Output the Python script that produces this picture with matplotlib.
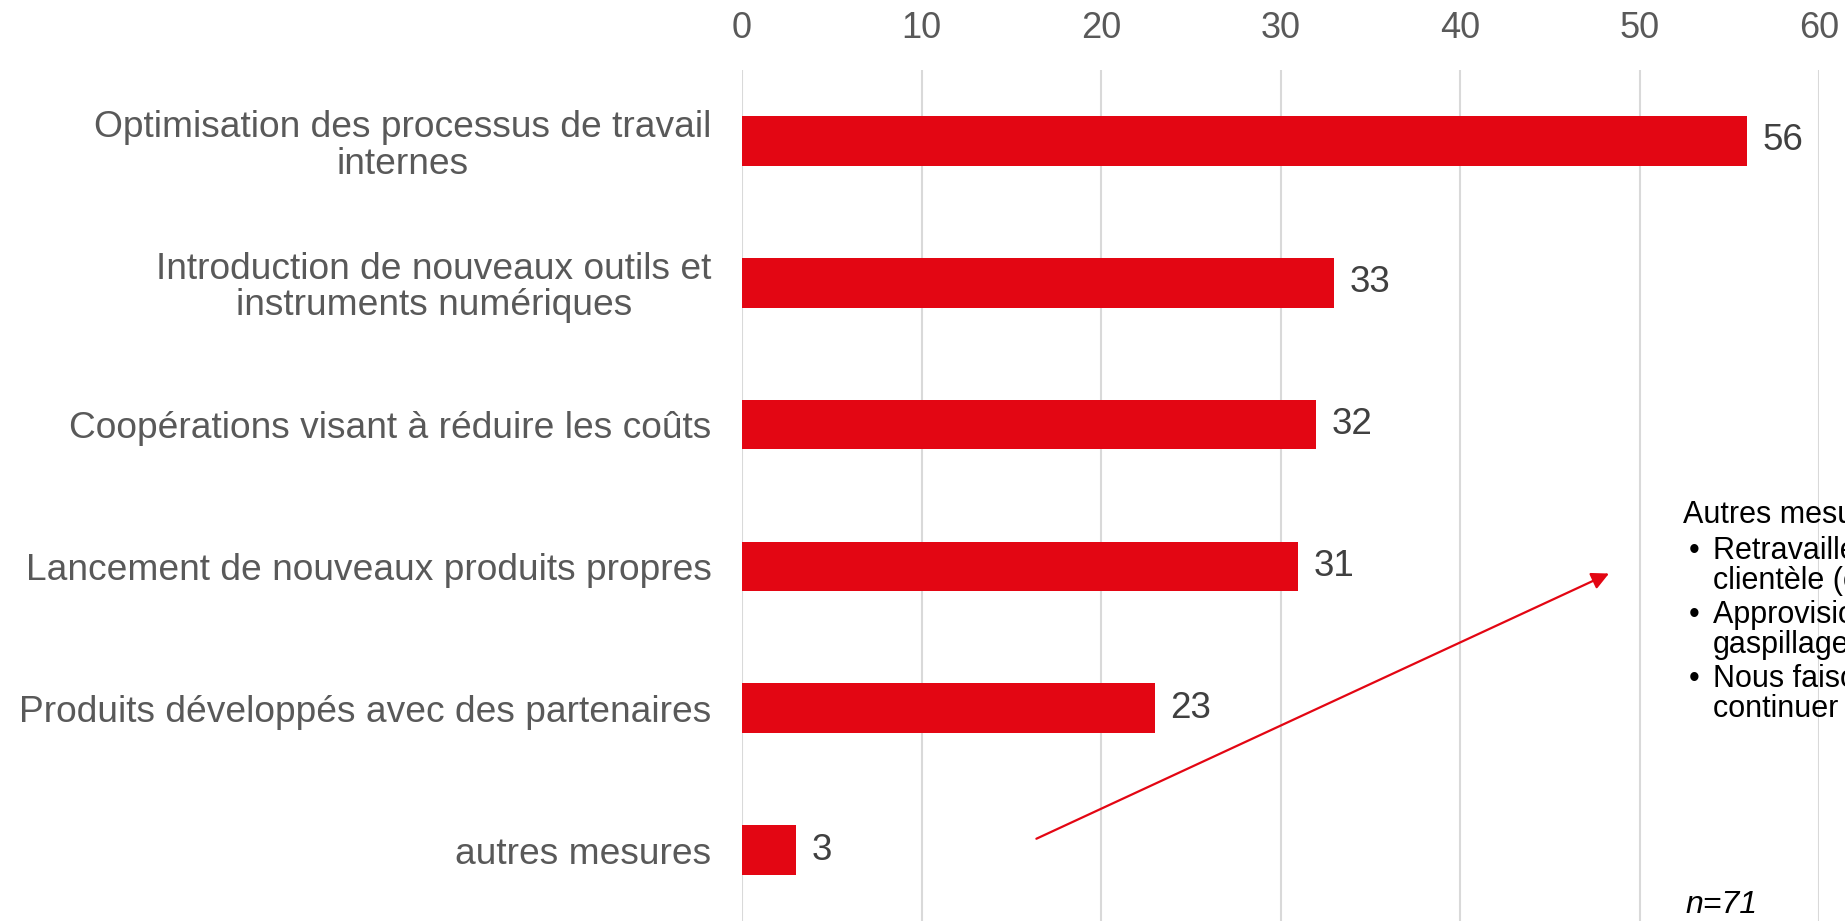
import matplotlib
matplotlib.use('Agg')
import matplotlib.pyplot as plt

plt.rcParams['font.family'] = ['Liberation Sans', 'DejaVu Sans']

categories = [
    'Optimisation des processus de travail\ninternes',
    'Introduction de nouveaux outils et\ninstruments numériques',
    'Coopérations visant à réduire les coûts',
    'Lancement de nouveaux produits propres',
    'Produits développés avec des partenaires',
    'autres mesures',
]
values = [56, 33, 32, 31, 23, 3]
x_ticks = [0, 10, 20, 30, 40, 50, 60]

note_title = 'Autres mesures :'
note_items = [
    ['Retravailler la segmentation de la', 'clientèle (ciblage)'],
    ['Approvisionnement optimisé, moins de', 'gaspillage'],
    ['Nous faisons tout pour', 'continuer comme avant'],
]
sample_size = 'n=71'

W, H = 1845, 921
red = '#E30613'
grey = '#595959'

fig = plt.figure(figsize=(W / 100, H / 100), dpi=100)
ax = fig.add_axes([742 / W, 0, (1819 - 742) / W, 1 - 70 / H])

ypos = list(range(len(categories)))
bars = ax.barh(ypos, values, height=0.35, color=red, zorder=3)
for t in ax.bar_label(bars, padding=11, fontsize=26.5, color='#404040'):
    t.set_y(t.get_position()[1] + 0.02)

ax.set_xlim(0, 60)
ax.set_ylim(5.5, -0.5)
ax.set_xticks(x_ticks)
ax.xaxis.tick_top()
ax.tick_params(axis='x', length=0, pad=17, labelsize=26, labelcolor=grey)
ax.set_yticks(ypos)
ax.set_yticklabels(categories, fontsize=26.7, color=grey, linespacing=1.06,
                   multialignment='center')
ax.tick_params(axis='y', length=0, pad=22)
ax.grid(axis='x', color='#d9d9d9', linewidth=1.5, zorder=0)
for s in ax.spines.values():
    s.set_visible(False)

# arrow pointing at the note
ax.annotate('', xy=(48.3, 3.05), xytext=(16.4, 4.92),
            arrowprops=dict(arrowstyle='-|>', color=red, lw=1.6,
                            mutation_scale=26, shrinkA=0, shrinkB=0))


def px(x, y):
    return x / W, 1 - y / H


fig.text(*px(1683, 523), note_title, fontsize=22, va='baseline')
y = 559
for item in note_items:
    fig.text(*px(1689, y), '•', fontsize=22, va='baseline')
    for line in item:
        fig.text(*px(1713, y), line, fontsize=22, va='baseline')
        y += 30
    y += 4

fig.text(*px(1685, 913), sample_size, fontsize=23, style='italic',
         va='baseline')

fig.savefig('out.png', dpi=100)
